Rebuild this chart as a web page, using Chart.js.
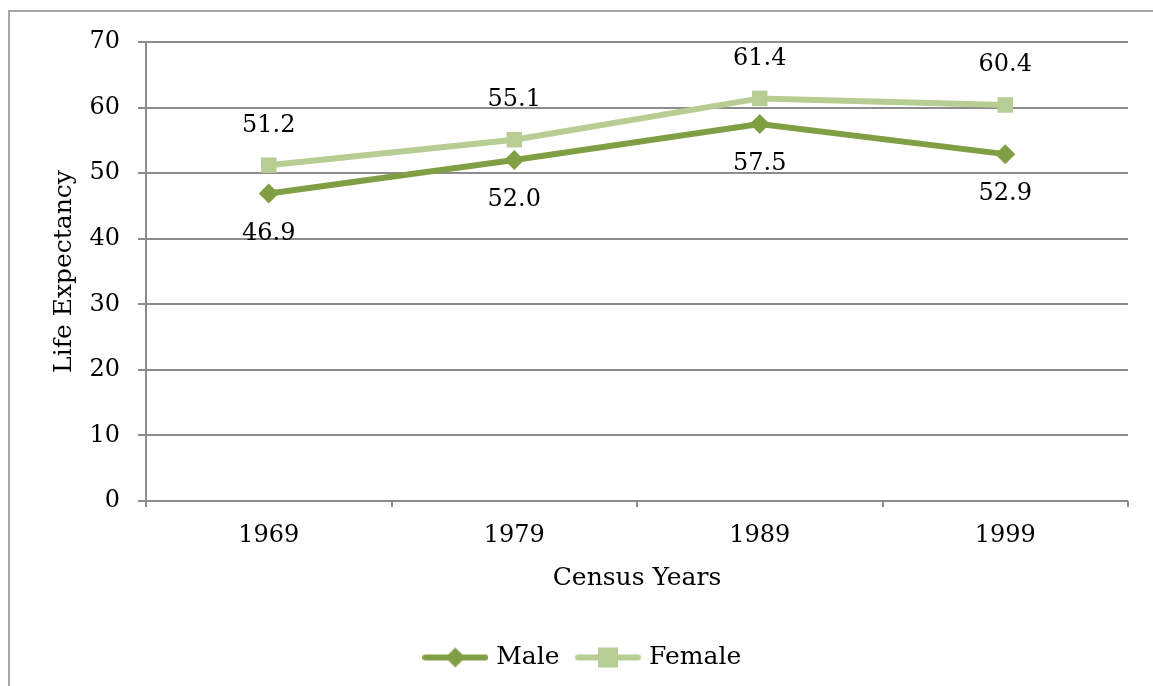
<!DOCTYPE html>
<html>
<head>
<meta charset="utf-8">
<script src="https://cdn.jsdelivr.net/npm/chart.js@4.4.1/dist/chart.umd.min.js"></script>
<style>
  html, body { margin: 0; padding: 0; background: #fff; overflow: hidden; }
  #wrap { position: relative; width: 1153px; height: 686px; overflow: hidden; }
  #frame { position: absolute; left: 8px; top: 10px; width: 1300px; height: 900px; border: 2px solid #a6a6a6; box-sizing: border-box; }
  #c { position: absolute; left: 0; top: 0; }
</style>
</head>
<body>
<div id="wrap">
  <div id="frame"></div>
  <canvas id="c" width="1153" height="686"></canvas>
</div>
<script>
let years = ["1969", "1979", "1989", "1999"]
let male = [46.9, 52.0, 57.5, 52.9]
let female = [51.2, 55.1, 61.4, 60.4]
let seriesNames = ["Male", "Female"]

let maleColor = "#809f45"
let femaleColor = "#b7cd93"
let fontFamily = "'DejaVu Serif', 'Liberation Serif', serif"

// little picture for the legend: a line with the marker in the middle
function legendIcon(color, style) {
  let cv = document.createElement("canvas")
  cv.width = 66
  cv.height = 22
  let g = cv.getContext("2d")
  g.strokeStyle = color
  g.lineWidth = 6
  g.lineCap = "round"
  g.beginPath()
  g.moveTo(3, 11)
  g.lineTo(63, 11)
  g.stroke()
  g.fillStyle = color
  if (style === "diamond") {
    g.beginPath()
    g.moveTo(33, 1)
    g.lineTo(43, 11)
    g.lineTo(33, 21)
    g.lineTo(23, 11)
    g.closePath()
    g.fill()
  } else {
    g.fillRect(23, 1, 20, 20)
  }
  return cv
}

let valueLabels = {
  id: "valueLabels",
  afterDatasetsDraw(chart) {
    let ctx = chart.ctx
    ctx.save()
    ctx.font = "24px " + fontFamily
    ctx.fillStyle = "#000"
    ctx.textAlign = "center"
    ctx.textBaseline = "middle"
    chart.data.datasets.forEach((ds, i) => {
      let meta = chart.getDatasetMeta(i)
      meta.data.forEach((pt, j) => {
        let dy = i === 0 ? 40 : -40
        ctx.fillText(ds.data[j].toFixed(1), pt.x, pt.y + dy)
      })
    })
    ctx.restore()
  },
}

let ctx = document.getElementById("c").getContext("2d")

let chart = new Chart(ctx, {
  type: "line",
  data: {
    labels: years,
    datasets: [
      {
        label: seriesNames[0],
        data: male,
        borderColor: maleColor,
        backgroundColor: maleColor,
        borderWidth: 6,
        pointStyle: "rectRot",
        pointRadius: 10,
        pointBorderWidth: 0,
        tension: 0,
      },
      {
        label: seriesNames[1],
        data: female,
        borderColor: femaleColor,
        backgroundColor: femaleColor,
        borderWidth: 6,
        pointStyle: "rect",
        pointRadius: 11,
        pointBorderWidth: 0,
        tension: 0,
      },
    ],
  },
  options: {
    responsive: false,
    animation: false,
    layout: {
      padding: { left: 40, right: 25, top: 42, bottom: 6 },
    },
    plugins: {
      tooltip: { enabled: false },
      legend: {
        position: "bottom",
        labels: {
          usePointStyle: true,
          pointStyleWidth: 57,
          padding: 20,
          color: "#000",
          font: { family: fontFamily, size: 25 },
          generateLabels(chart) {
            return chart.data.datasets.map((ds, i) => ({
              text: ds.label,
              pointStyle: legendIcon(ds.borderColor, i === 0 ? "diamond" : "square"),
              fillStyle: ds.borderColor,
              strokeStyle: ds.borderColor,
              lineWidth: 0,
              hidden: false,
              datasetIndex: i,
              fontColor: "#000",
            }))
          },
        },
      },
    },
    scales: {
      x: {
        offset: true,
        grid: {
          offset: true,
          drawOnChartArea: false,
          drawTicks: true,
          tickLength: 6,
          color: "#8c8c8c",
          lineWidth: 2,
        },
        border: { display: false },
        ticks: {
          color: "#000",
          padding: 14,
          font: { family: fontFamily, size: 24 },
        },
        title: {
          display: true,
          text: "Census Years",
          color: "#000",
          font: { family: fontFamily, size: 25 },
          padding: { top: 12, bottom: 32 },
        },
        afterFit(scale) {
          scale.height = 124
        },
      },
      y: {
        min: 0,
        max: 70,
        ticks: {
          stepSize: 10,
          color: "#000",
          padding: 18,
          font: { family: fontFamily, size: 24 },
        },
        grid: {
          color: "#8c8c8c",
          lineWidth: 2,
          tickLength: 8,
        },
        border: { color: "#8c8c8c", width: 2 },
        title: {
          display: true,
          text: "Life Expectancy",
          color: "#000",
          font: { family: fontFamily, size: 25 },
          padding: { top: 9, bottom: 0 },
        },
        afterFit(scale) {
          scale.width = 106
        },
      },
    },
  },
  plugins: [valueLabels],
})
</script>
</body>
</html>
